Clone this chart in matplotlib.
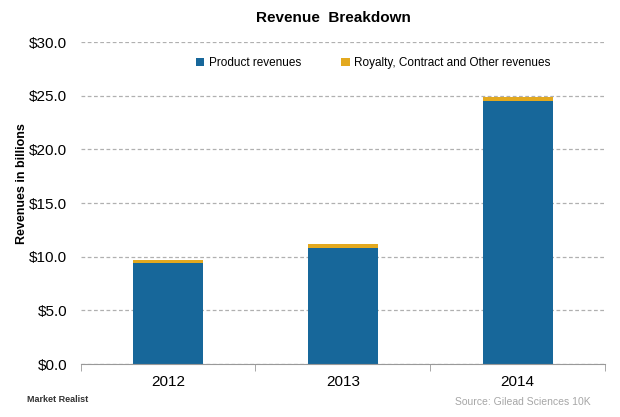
import matplotlib
matplotlib.use("Agg")
import matplotlib.pyplot as plt
import numpy as np

# valeurs (en milliards de $)
years = ["2012", "2013", "2014"]
product = [9.4, 10.8, 24.5]
royalty = [0.3, 0.4, 0.4]
yticks = [0, 5, 10, 15, 20, 25, 30]

BLUE = "#17679a"
GOLD = "#e3a91f"

plt.rcParams["font.family"] = ["Liberation Sans", "DejaVu Sans"]

fig = plt.figure(figsize=(6.2, 4.17), dpi=100)
ax = fig.add_axes([0.130, 0.127, 0.846, 0.772])

x = np.arange(len(years))
b1 = ax.bar(x, product, width=0.4, color=BLUE, label="Product revenues", zorder=3)
b2 = ax.bar(x, royalty, width=0.4, bottom=product, color=GOLD,
            label="Royalty, Contract and Other revenues", zorder=3)

ax.set_xlim(-0.5, 2.5)
ax.set_ylim(0, 30)
ax.set_yticks(yticks)
ax.set_yticklabels([f"${v:.1f}" for v in yticks], fontsize=11)
ax.set_xticks(x)
ax.set_xticklabels(years, fontsize=11)
ax.set_xticks([-0.5, 0.5, 1.5, 2.5], minor=True)
ax.tick_params(axis="x", which="major", length=0, pad=8)
ax.tick_params(axis="x", which="minor", length=5, color="#999999")
ax.tick_params(axis="y", length=0, pad=9.5)

ax.yaxis.grid(True, linestyle=(0, (3, 2)), color="#b0b0b0", linewidth=0.9, zorder=0)
for s in ["top", "right", "left"]:
    ax.spines[s].set_visible(False)
ax.spines["bottom"].set_color("#999999")
ax.spines["bottom"].set_zorder(4)

ax.set_ylabel("Revenues in billions", fontsize=9, fontweight="bold", labelpad=6)
ax.yaxis.set_label_coords(-0.10, 0.56)

fig.text(0.538, 0.957, "Revenue  Breakdown", ha="center", va="center",
         fontsize=11, fontweight="bold")

fig.legend(handles=[b1, b2], loc="center", bbox_to_anchor=(0.602, 0.849), ncol=2,
           frameon=False, fontsize=8.5, handlelength=0.7, handleheight=0.7,
           handletextpad=0.4, columnspacing=3.4)

fig.text(0.043, 0.041, "Market Realist", fontsize=6.5, fontweight="bold",
         color="#333333", ha="left", va="center")
fig.text(0.952, 0.036, "Source: Gilead Sciences 10K", fontsize=7.5,
         color="#a6a6a6", ha="right", va="center")

fig.savefig("out.png", dpi=100)
